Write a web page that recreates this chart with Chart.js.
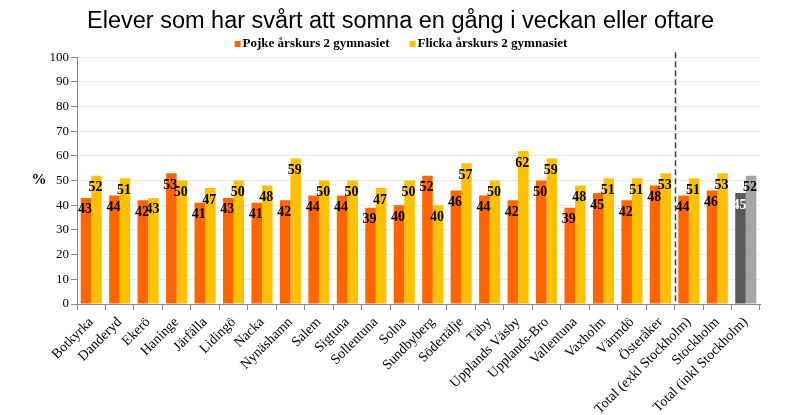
<!DOCTYPE html>
<html>
<head>
<meta charset="utf-8">
<script src="https://cdn.jsdelivr.net/npm/chart.js@4"></script>
<style>
html,body{margin:0;padding:0;background:#fff;}
#wrap{width:801px;height:415px;}
</style>
</head>
<body>
<div id="wrap"><canvas id="sleepChart" width="801" height="415"></canvas></div>
<script>
const kommuner = [
    "Botkyrka","Danderyd","Ekerö","Haninge","Järfälla","Lidingö","Nacka","Nynäshamn",
    "Salem","Sigtuna","Sollentuna","Solna","Sundbyberg","Södertälje","Täby",
    "Upplands Väsby","Upplands-Bro","Vallentuna","Vaxholm","Värmdö","Österåker",
    "Total (exkl Stockholm)","Stockholm","Total (inkl Stockholm)"
];

const pojkeData = [43,44,42,53,41,43,41,42,44,44,39,40,52,46,44,42,50,39,45,42,48,44,46,45];
const flickaData = [52,51,43,50,47,50,48,59,50,50,47,50,40,57,50,62,59,48,51,51,53,51,53,52];

const yTicks = [0,10,20,30,40,50,60,70,80,90,100];

const lastIdx = kommuner.length - 1;
const serif = "'Liberation Serif','Times New Roman',serif";
const orange = "#FF6600", yellow = "#FFC000";

// labels inside the bars, legend row, dashed separator and the % sign
const extras = {
    id:"extras",
    afterDatasetsDraw(chart){
        const ctx = chart.ctx;
        const x = chart.scales.x;
        const area = chart.chartArea;

        ctx.save();
        ctx.font = "bold 14px " + serif;
        ctx.textAlign = "center";
        ctx.textBaseline = "middle";
        chart.data.datasets.forEach((ds,i)=>{
            chart.getDatasetMeta(i).data.forEach((bar,j)=>{
                ctx.fillStyle = (i === 0 && j === lastIdx) ? "#ffffff" : "#000000";
                ctx.fillText(Math.round(ds.data[j]), bar.x - 1, bar.y + 12);
            });
        });

        // separator between Österåker and the totals
        const sx = Math.round((x.getPixelForValue(20) + x.getPixelForValue(21)) / 2) + 0.5;
        ctx.strokeStyle = "#404040";
        ctx.lineWidth = 1.5;
        ctx.setLineDash([6,3]);
        ctx.beginPath();
        ctx.moveTo(sx, area.top - 5);
        ctx.lineTo(sx, area.bottom);
        ctx.stroke();
        ctx.setLineDash([]);

        ctx.fillStyle = "#000";
        ctx.font = "bold 15px " + serif;
        ctx.fillText("%", 39, chart.scales.y.getPixelForValue(50));

        // legend
        ctx.font = "bold 13px " + serif;
        ctx.textAlign = "left";
        const items = chart.data.datasets.map((ds,i) => ({ text:ds.label, color:[orange,yellow][i] }));
        const box = 6, gapBox = 2, gapItem = 20;
        const widths = items.map(it => box + gapBox + ctx.measureText(it.text).width);
        let lx = 401 - (widths.reduce((a,b)=>a+b,0) + gapItem * (items.length - 1)) / 2;
        const ly = 44;
        items.forEach((it,i)=>{
            ctx.fillStyle = it.color;
            ctx.fillRect(lx, ly - box / 2, box, box);
            ctx.fillStyle = "#000";
            ctx.fillText(it.text, lx + box + gapBox, ly);
            lx += widths[i] + gapItem;
        });
        ctx.restore();
    }
};

new Chart(document.getElementById("sleepChart"),{

    type:"bar",

    data:{
        labels:kommuner,
        datasets:[{
            label:"Pojke årskurs 2 gymnasiet",
            data:pojkeData,
            backgroundColor:c => c.dataIndex === lastIdx ? "#595959" : orange
        },{
            label:"Flicka årskurs 2 gymnasiet",
            data:flickaData,
            backgroundColor:c => c.dataIndex === lastIdx ? "#A6A6A6" : yellow
        }]
    },

    options:{
        responsive:false,
        animation:false,
        devicePixelRatio:1,
        categoryPercentage:0.74,
        barPercentage:1.0,
        layout:{ padding:{ left:0, right:0, top:7, bottom:0 } },
        plugins:{
            title:{
                display:true,
                text:"Elever som har svårt att somna en gång i veckan eller oftare",
                color:"#000",
                font:{ family:"'Liberation Sans',Arial,sans-serif", size:23.5, weight:"normal" },
                padding:{ top:0, bottom:22 }
            },
            legend:{ display:false },
            tooltip:{ enabled:false }
        },
        scales:{
            x:{
                grid:{ drawOnChartArea:false, tickLength:6, color:"#888", tickColor:"#888" },
                border:{ color:"#888" },
                ticks:{
                    color:"#000",
                    autoSkip:false,
                    minRotation:45,
                    maxRotation:45,
                    padding:4,
                    font:{ family:serif, size:14 }
                },
                afterFit(scale){ scale.height = 111; }
            },
            y:{
                min:0,
                max:100,
                afterBuildTicks(scale){ scale.ticks = yTicks.map(v => ({ value:v })); },
                grid:{ color:"#ececec", tickColor:"#888", tickLength:6 },
                border:{ color:"#888" },
                ticks:{
                    color:"#000",
                    padding:2,
                    font:{ family:serif, size:13 }
                },
                afterFit(scale){ scale.width = 77; }
            },
            // empty right axis, only keeps the white margin on the right
            spacer:{
                position:"right",
                grid:{ display:false },
                border:{ display:false },
                ticks:{ display:false },
                afterFit(scale){ scale.width = 41; }
            }
        }
    },

    plugins:[extras]

});
</script>
</body>
</html>
